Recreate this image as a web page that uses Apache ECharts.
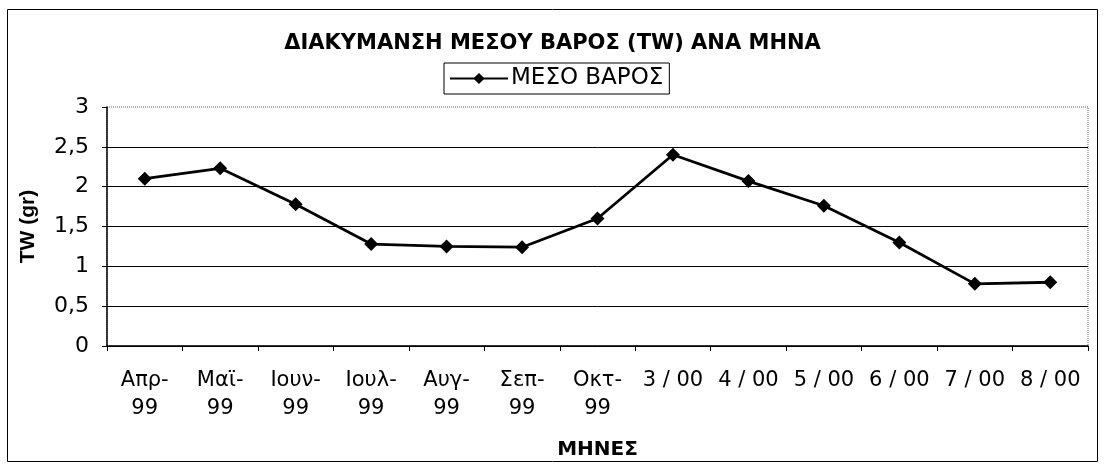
<!DOCTYPE html>
<html>
<head>
<meta charset="utf-8">
<script src="https://cdn.jsdelivr.net/npm/echarts@6/dist/echarts.min.js"></script>
<style>
  html, body { margin: 0; padding: 0; background: #fff; }
  #chart { width: 1105px; height: 465px; }
</style>
</head>
<body>
<div id="chart"></div>
<script>
// months on the x axis
var months = ['Απρ-\n99', 'Μαϊ-\n99', 'Ιουν-\n99', 'Ιουλ-\n99', 'Αυγ-\n99', 'Σεπ-\n99', 'Οκτ-\n99',
  '3 / 00', '4 / 00', '5 / 00', '6 / 00', '7 / 00', '8 / 00']
// mean weight (gr)
var meanWeight = [2.10, 2.23, 1.78, 1.28, 1.25, 1.24, 1.60, 2.40, 2.07, 1.76, 1.30, 0.78, 0.80]

var wide = "'DejaVu Sans', Verdana, sans-serif"
var arial = "'Liberation Sans', Arial, sans-serif"
var chart = echarts.init(document.getElementById('chart'))

chart.setOption({
  animation: false,
  backgroundColor: '#fff',
  textStyle: { fontFamily: wide, color: '#000' },
  title: {
    text: 'ΔΙΑΚΥΜΑΝΣΗ ΜΕΣΟΥ ΒΑΡΟΣ (TW) ΑΝΑ ΜΗΝΑ',
    left: 'center',
    top: 28,
    textStyle: { fontFamily: wide, fontSize: 21, fontWeight: 'bold', color: '#000' }
  },
  legend: {
    data: ['ΜΕΣΟ ΒΑΡΟΣ'],
    left: 444,
    top: 63,
    padding: [4, 6, 4, 5],
    borderColor: '#000',
    borderWidth: 1,
    borderRadius: 0,
    itemWidth: 58,
    itemHeight: 14,
    itemGap: 4,
    textStyle: { fontFamily: wide, fontSize: 23, color: '#000', padding: [0, 0, 0, -2] }
  },
  grid: {
    left: 107,
    right: 17,
    top: 107,
    bottom: 118,
    show: true,
    borderColor: '#666',
    borderWidth: 1,
    borderType: 'dotted'
  },
  xAxis: {
    type: 'category',
    data: months,
    name: 'ΜΗΝΕΣ',
    nameLocation: 'middle',
    nameGap: 94,
    nameTextStyle: { fontFamily: wide, fontSize: 20, fontWeight: 'bold', color: '#000' },
    axisLine: { lineStyle: { color: '#000', width: 1.5 } },
    axisTick: { show: true, alignWithLabel: false, length: 5, lineStyle: { color: '#000' } },
    axisLabel: { fontFamily: wide, fontSize: 21, color: '#000', margin: 21, lineHeight: 28, interval: 0 }
  },
  yAxis: {
    type: 'value',
    min: 0,
    max: 3,
    interval: 0.5,
    name: 'TW (gr)',
    nameLocation: 'middle',
    nameGap: 68,
    nameRotate: 90,
    nameTextStyle: { fontFamily: arial, fontSize: 21, fontWeight: 'bold', color: '#000' },
    axisLine: { show: true, lineStyle: { color: '#000', width: 1.5 } },
    axisTick: { show: true, length: 5, lineStyle: { color: '#000' } },
    axisLabel: {
      fontFamily: wide, fontSize: 22, color: '#000', margin: 18,
      formatter: function (v) { return String(v).replace('.', ',') }
    },
    splitLine: {
      show: true,
      lineStyle: { color: ['#000', '#000', '#000', '#000', '#000', '#000', 'transparent'], width: 1 }
    }
  },
  series: [{
    name: 'ΜΕΣΟ ΒΑΡΟΣ',
    type: 'line',
    data: meanWeight,
    symbol: 'diamond',
    symbolSize: 14,
    lineStyle: { color: '#000', width: 2.8 },
    itemStyle: { color: '#000' }
  }],
  graphic: [{
    type: 'rect',
    shape: { x: 7.5, y: 9.5, width: 1090, height: 452 },
    style: { fill: 'none', stroke: '#000', lineWidth: 1 },
    silent: true
  }]
})
</script>
</body>
</html>
